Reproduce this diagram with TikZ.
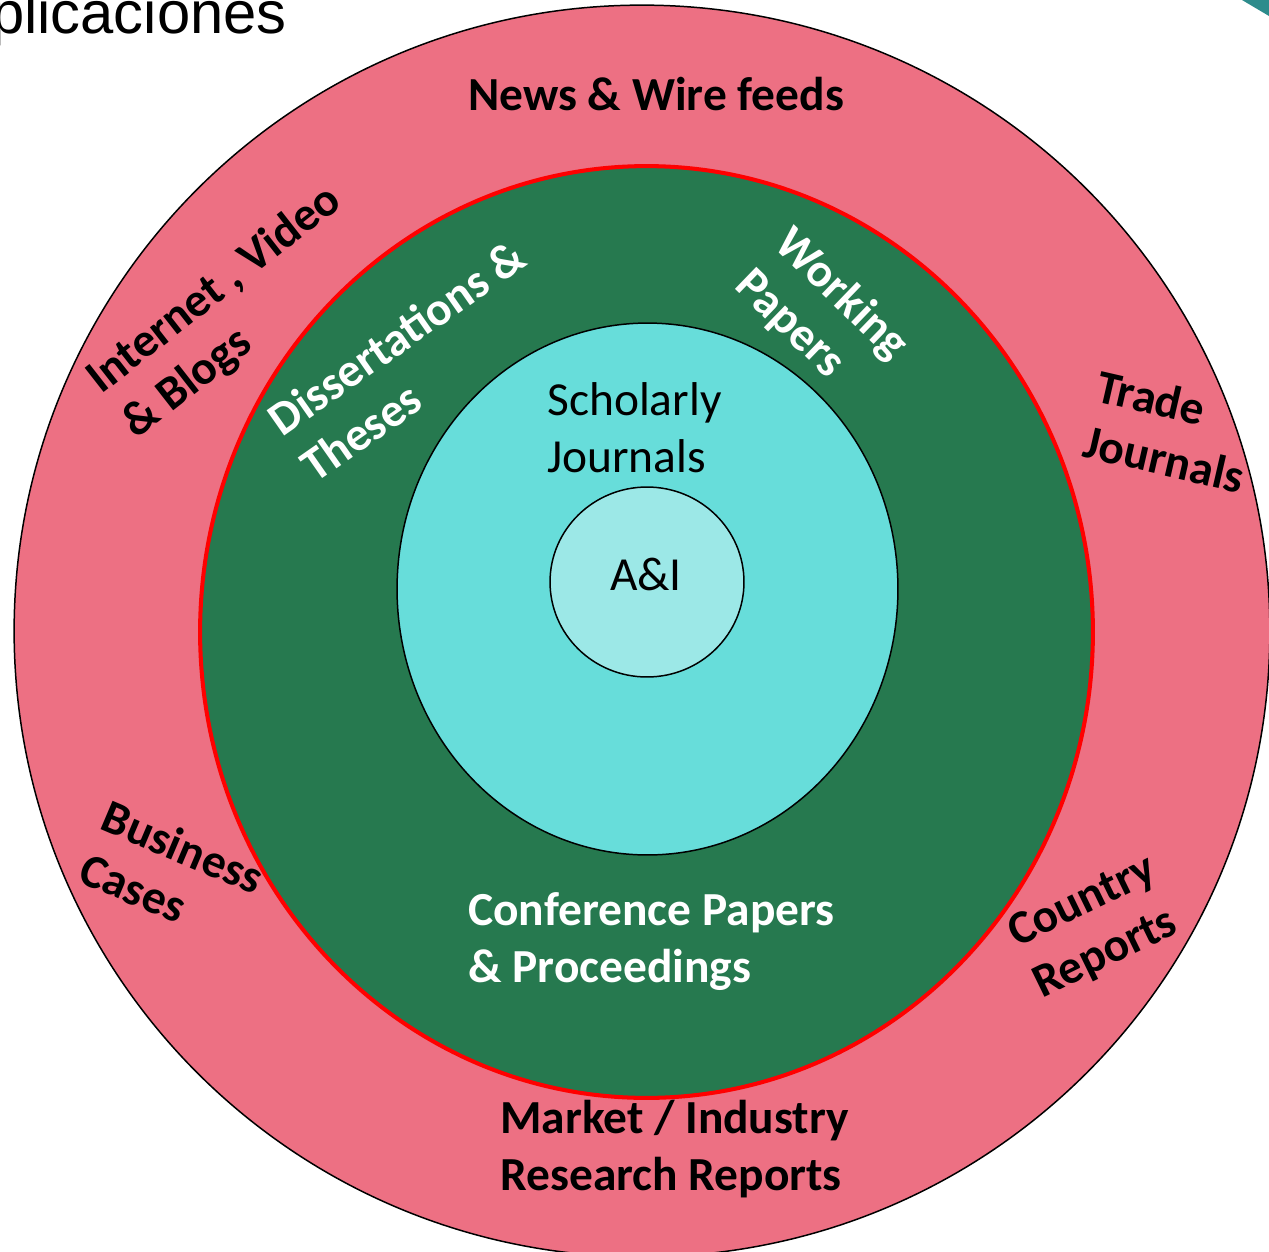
\documentclass[tikz,border=0pt]{standalone}
\usepackage{fontspec}
\setmainfont{Carlito}
\newfontfamily\arialfont{Liberation Sans}
\definecolor{ringpink}{RGB}{237,112,131}
\definecolor{ringgreen}{RGB}{38,121,79}
\definecolor{ringcyan}{RGB}{103,221,218}
\definecolor{corelight}{RGB}{156,232,231}
\definecolor{cornerteal}{RGB}{45,140,140}
\tikzset{
  blk/.style={font=\bfseries\fontsize{27}{32.4}\selectfont, text=black, inner sep=0pt, align=left, anchor=base west},
  wht/.style={blk, text=white},
  reg/.style={font=\fontsize{27}{32.4}\selectfont, text=black, inner sep=0pt, align=left, anchor=base west},
  ringline/.style={draw=black, line width=0.85pt},
}
\begin{document}
\begin{tikzpicture}[x=0.02cm,y=-0.02cm]
\useasboundingbox (0,0) rectangle (1269,1252);
\clip (0,0) rectangle (1269,1252);
% rings
\coordinate (c0) at (642,631);
\coordinate (c1) at (646.5,632);
\coordinate (c2) at (647.5,589);
\coordinate (c3) at (647,582);
\filldraw[fill=ringpink, ringline] (c0) ellipse [x radius=12.56cm, y radius=12.52cm];
\filldraw[fill=ringgreen, draw=red, line width=2.3pt] (c1) ellipse [x radius=8.93cm, y radius=9.32cm];
\filldraw[fill=ringcyan, ringline] (c2) ellipse [x radius=5.01cm, y radius=5.32cm];
\filldraw[fill=corelight, ringline] (c3) ellipse [x radius=1.94cm, y radius=1.90cm];
% corner decoration
\fill[cornerteal] (1242,0) -- (1269,0) -- (1269,16) -- cycle;
% title fragment
\node[font=\arialfont\fontsize{34}{40}\selectfont, inner sep=0pt, anchor=base east] (title) at (287,33) {Aplicaciones};
% outer ring labels (anchor = baseline of last line)
\node[blk] (news) at (468,110) {News \& Wire feeds};
\node[blk, rotate=38] (inet) at (136,440) {Internet , Video\\\& Blogs};
\node[blk, rotate=-13] (trade) at (1081,456.5) {Trade\\Journals};
\node[blk, rotate=-23] (biz) at (76,881) {Business\\Cases};
\node[blk, rotate=26] (country) at (1042,999) {Country\\Reports};
\node[blk] (market) at (500,1190) {Market / Industry\\Research Reports};
% green ring labels
\node[wht, rotate=35] (diss) at (315,484) {Dissertations \&\\Theses};
\node[wht, rotate=-44] (work) at (733,287) {Working\\Papers};
\node[wht] (conf) at (468,982) {Conference Papers\\\& Proceedings};
% inner labels
\node[reg] (schol) at (547,472) {Scholarly\\Journals};
\node[reg, anchor=base] (ai) at (646,590) {A\&I};
\end{tikzpicture}
\end{document}
